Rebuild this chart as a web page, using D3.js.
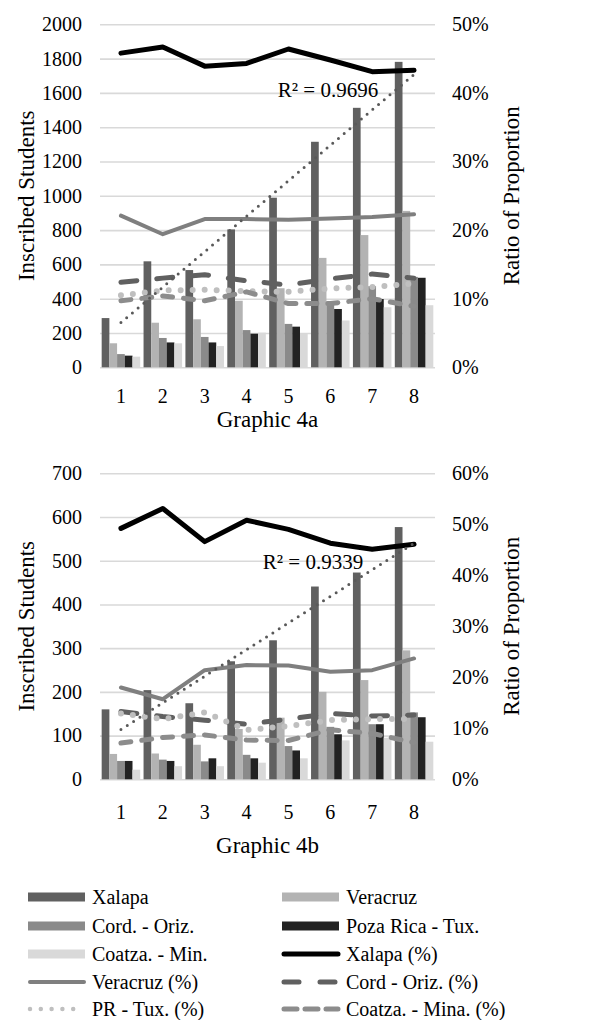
<!DOCTYPE html>
<html>
<head>
<meta charset="utf-8">
<script src="https://cdn.jsdelivr.net/npm/d3@7/dist/d3.min.js"></script>
<style>
  html, body { margin: 0; padding: 0; background: #fff; }
  svg { display: block; }
  svg text { font-family: "Liberation Serif", "Times New Roman", serif !important; fill: #000; }
</style>
</head>
<body>
<svg id="chart" width="610" height="1020"></svg>
<script>
// Semesters on the horizontal axis
const categories = ["1", "2", "3", "4", "5", "6", "7", "8"];

// Bar series (inscribed students per region)
const barNames = ["Xalapa", "Veracruz", "Cord. - Oriz.", "Poza Rica - Tux.", "Coatza. - Min."];
// Line series (share of each region, %)
const lineNames = ["Xalapa (%)", "Veracruz (%)", "Cord - Oriz. (%)", "PR - Tux. (%)", "Coatza. - Mina. (%)"];

// Graphic 4a
const a_xalapa   = [287, 618, 567, 804, 989, 1315, 1513, 1781];
const a_veracruz = [140, 260, 280, 388, 461, 638, 771, 912];
const a_cord     = [77, 171, 177, 217, 253, 385, 473, 527];
const a_pozarica = [68, 145, 145, 196, 237, 340, 398, 522];
const a_coatza   = [62, 140, 124, 202, 197, 273, 350, 362];
const a_xalapaPct   = [45.8, 46.7, 43.9, 44.3, 46.4, 44.8, 43.1, 43.3];
const a_veracruzPct = [22.1, 19.4, 21.6, 21.6, 21.5, 21.7, 21.9, 22.3];
const a_cordPct     = [12.4, 13.0, 13.5, 12.6, 12.0, 12.9, 13.6, 13.0];
const a_prPct       = [10.5, 11.2, 11.3, 11.1, 11.0, 11.5, 11.7, 12.2];
const a_coatzaPct   = [9.7, 10.4, 9.7, 11.0, 9.3, 9.3, 10.0, 8.9];
const a_leftTicks  = [0, 200, 400, 600, 800, 1000, 1200, 1400, 1600, 1800, 2000];
const a_rightTicks = [0, 10, 20, 30, 40, 50];
const a_r2 = "R² = 0.9696";

// Graphic 4b
const b_xalapa   = [160, 204, 174, 270, 318, 441, 473, 577];
const b_veracruz = [58, 59, 79, 115, 141, 200, 227, 295];
const b_cord     = [42, 45, 41, 56, 76, 120, 126, 153];
const b_pozarica = [42, 42, 48, 48, 66, 103, 126, 142];
const b_coatza   = [22, 30, 30, 38, 48, 89, 95, 86];
const b_xalapaPct   = [49.2, 53.1, 46.6, 50.8, 49.0, 46.3, 45.1, 46.1];
const b_veracruzPct = [18.0, 15.7, 21.4, 22.4, 22.3, 21.1, 21.4, 23.7];
const b_cordPct     = [13.3, 12.3, 11.6, 10.8, 11.8, 12.9, 12.4, 12.6];
const b_prPct       = [12.9, 11.8, 13.1, 9.7, 10.4, 11.6, 11.8, 11.8];
const b_coatzaPct   = [7.1, 8.2, 8.7, 7.7, 7.6, 9.7, 9.0, 7.2];
const b_leftTicks  = [0, 100, 200, 300, 400, 500, 600, 700];
const b_rightTicks = [0, 10, 20, 30, 40, 50, 60];
const b_r2 = "R² = 0.9339";

// Styling
const serif = "Liberation Serif, Times New Roman, serif";
const barColors = ["#606060", "#b3b3b3", "#8a8a8a", "#222222", "#d9d9d9"];
const lineStyles = [
  { stroke: "#000000", width: 5,   dash: null,    cap: "round" },
  { stroke: "#7f7f7f", width: 4,   dash: null,    cap: "round" },
  { stroke: "#606060", width: 5,   dash: "16,20", cap: "round" },
  { stroke: "#bfbfbf", width: 6,   dash: "0,12",  cap: "round" },
  { stroke: "#8c8c8c", width: 5,   dash: "10,11", cap: "round" }
];

const svg = d3.select("#chart");
const plotLeft = 100, plotRight = 435;

function styleText(sel, size) {
  sel.attr("font-size", size).style("font-family", serif).attr("fill", "#000");
}

function drawPanel(cfg) {
  const g = svg.append("g");
  const x = d3.scaleBand().domain(categories).range([plotLeft, plotRight])
    .paddingInner(0.08).paddingOuter(0.04);
  const xs = d3.scaleBand().domain(barNames).range([0, x.bandwidth()]);
  const y = d3.scaleLinear().domain([0, cfg.leftTicks[cfg.leftTicks.length - 1]])
    .range([cfg.bottom, cfg.top]);
  const yr = d3.scaleLinear().domain([0, cfg.rightTicks[cfg.rightTicks.length - 1]])
    .range([cfg.bottom, cfg.top]);
  const cx = c => x(c) + x.bandwidth() / 2;

  // gridlines
  const grid = g.append("g").attr("transform", `translate(${plotLeft},0)`)
    .call(d3.axisLeft(y).tickValues(cfg.leftTicks).tickSize(-(plotRight - plotLeft)).tickFormat(""));
  grid.select(".domain").remove();
  grid.selectAll("line").attr("stroke", "#d9d9d9").attr("stroke-width", 1.6);

  // left axis labels
  const la = g.append("g").attr("transform", `translate(${plotLeft},0)`)
    .call(d3.axisLeft(y).tickValues(cfg.leftTicks).tickSize(0).tickPadding(18).tickFormat(d3.format("d")));
  la.select(".domain").remove();
  la.attr("font-family", serif);
  styleText(la.selectAll("text"), 20);

  // right axis labels
  const ra = g.append("g").attr("transform", `translate(${plotRight},0)`)
    .call(d3.axisRight(yr).tickValues(cfg.rightTicks).tickSize(0).tickPadding(17).tickFormat(d => d + "%"));
  ra.select(".domain").remove();
  ra.attr("font-family", serif);
  styleText(ra.selectAll("text"), 20);

  // category axis
  const xa = g.append("g").attr("transform", `translate(0,${cfg.bottom})`)
    .call(d3.axisBottom(x).tickSize(0).tickPadding(cfg.xPad));
  xa.select(".domain").remove();
  xa.attr("font-family", serif);
  styleText(xa.selectAll("text"), 20);

  // bars
  const rows = categories.map((c, i) => ({ c, vals: cfg.bars.map(s => s[i]) }));
  const grp = g.append("g").selectAll("g").data(rows).join("g")
    .attr("transform", d => `translate(${x(d.c)},0)`);
  grp.selectAll("rect").data(d => d.vals.map((v, k) => ({ v, k })))
    .join("rect")
    .attr("x", d => xs(barNames[d.k]))
    .attr("width", xs.bandwidth())
    .attr("y", d => y(d.v))
    .attr("height", d => y(0) - y(d.v))
    .attr("fill", d => barColors[d.k]);

  // share lines
  cfg.pcts.forEach((series, k) => {
    const st = lineStyles[k];
    const line = d3.line().x((d, i) => cx(categories[i])).y(d => yr(d));
    g.append("path").datum(series)
      .attr("d", line)
      .attr("fill", "none")
      .attr("stroke", st.stroke)
      .attr("stroke-width", st.width)
      .attr("stroke-linecap", st.cap)
      .attr("stroke-linejoin", "round")
      .attr("stroke-dasharray", st.dash);
  });

  // linear trend of the Xalapa bars
  const xsIdx = categories.map((c, i) => i + 1);
  const ys = cfg.bars[0];
  const mx = d3.mean(xsIdx), my = d3.mean(ys);
  const slope = d3.sum(xsIdx, (v, i) => (v - mx) * (ys[i] - my)) / d3.sum(xsIdx, v => (v - mx) * (v - mx));
  const icpt = my - slope * mx;
  const trend = [1, categories.length].map(t => [cx(categories[t - 1]), y(icpt + slope * t)]);
  g.append("path").datum(trend)
    .attr("d", d3.line())
    .attr("fill", "none")
    .attr("stroke", "#595959")
    .attr("stroke-width", 3)
    .attr("stroke-linecap", "round")
    .attr("stroke-dasharray", "0,7.5");

  styleText(g.append("text")
    .attr("x", cfg.r2x).attr("y", cfg.r2y)
    .attr("text-anchor", "middle")
    .text(cfg.r2), 21);

  // axis titles
  styleText(g.append("text")
    .attr("transform", `translate(34,${(cfg.top + cfg.bottom) / 2}) rotate(-90)`)
    .attr("text-anchor", "middle")
    .text("Inscribed Students"), 23);
  styleText(g.append("text")
    .attr("transform", `translate(519,${(cfg.top + cfg.bottom) / 2}) rotate(-90)`)
    .attr("text-anchor", "middle")
    .text("Ratio of Proportion"), 23);

  styleText(g.append("text")
    .attr("x", (plotLeft + plotRight) / 2).attr("y", cfg.captionY)
    .attr("text-anchor", "middle")
    .text(cfg.caption), 23);
}

drawPanel({
  top: 24.3, bottom: 367.3, xPad: 22,
  leftTicks: a_leftTicks, rightTicks: a_rightTicks,
  bars: [a_xalapa, a_veracruz, a_cord, a_pozarica, a_coatza],
  pcts: [a_xalapaPct, a_veracruzPct, a_cordPct, a_prPct, a_coatzaPct],
  r2: a_r2, r2x: 328, r2y: 97,
  caption: "Graphic 4a", captionY: 427
});

drawPanel({
  top: 473.3, bottom: 779.3, xPad: 26,
  leftTicks: b_leftTicks, rightTicks: b_rightTicks,
  bars: [b_xalapa, b_veracruz, b_cord, b_pozarica, b_coatza],
  pcts: [b_xalapaPct, b_veracruzPct, b_cordPct, b_prPct, b_coatzaPct],
  r2: b_r2, r2x: 313, r2y: 569,
  caption: "Graphic 4b", captionY: 853
});

// legend
const legendItems = [
  { name: barNames[0], type: "bar", k: 0 },
  { name: barNames[1], type: "bar", k: 1 },
  { name: barNames[2], type: "bar", k: 2 },
  { name: barNames[3], type: "bar", k: 3 },
  { name: barNames[4], type: "bar", k: 4 },
  { name: lineNames[0], type: "line", k: 0 },
  { name: lineNames[1], type: "line", k: 1 },
  { name: lineNames[2], type: "line", k: 2 },
  { name: lineNames[3], type: "line", k: 3 },
  { name: lineNames[4], type: "line", k: 4 }
];
const legendDash = [null, null, "15,21", "0,10.8", "13,8"];
const legendRowY = [897, 926, 954, 982, 1009];
const legendColX = [28, 282];
const lg = svg.append("g");
legendItems.forEach((it, i) => {
  const col = i % 2, row = Math.floor(i / 2);
  const x0 = legendColX[col], yc = legendRowY[row];
  if (it.type === "bar") {
    lg.append("rect").attr("x", x0).attr("y", yc - 4.5).attr("width", 57).attr("height", 9)
      .attr("fill", barColors[it.k]);
  } else {
    const st = lineStyles[it.k];
    lg.append("line").attr("x1", x0 + 2).attr("x2", x0 + 56).attr("y1", yc).attr("y2", yc)
      .attr("stroke", st.stroke).attr("stroke-width", it.k === 3 ? 4.5 : st.width)
      .attr("stroke-linecap", "round").attr("stroke-dasharray", legendDash[it.k]);
  }
  styleText(lg.append("text").attr("x", x0 + 64).attr("y", yc + 7).text(it.name), 20);
});
</script>
</body>
</html>
